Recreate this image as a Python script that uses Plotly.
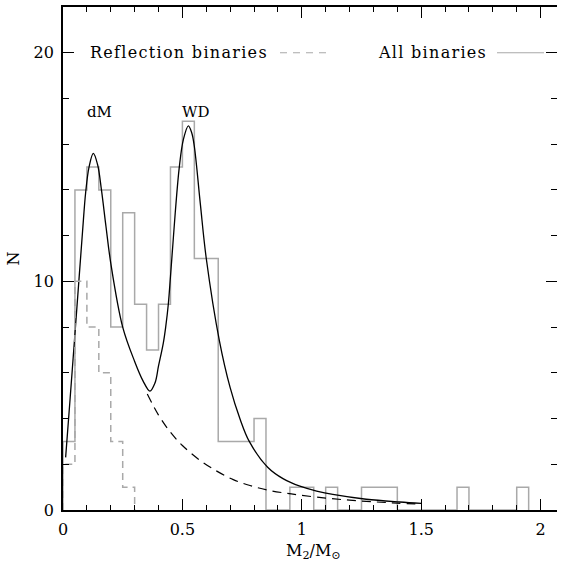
import plotly.graph_objects as go

# Histogram counts in 0.05 Msun bins starting at M2 = 0
BIN_WIDTH = 0.05
all_counts = [3, 14, 15, 14, 8, 13, 9, 7, 9, 15, 17, 11, 11, 3, 3, 3, 4, 0, 0, 1,
              1, 0, 1, 0, 0, 1, 1, 1, 0, 0, 0, 0, 0, 1, 0, 0, 0, 0, 1]
refl_counts = [2, 10, 8, 6, 3, 1]

# Two-component fit (dM + WD), sampled along the curve
fit_x = [0.011, 0.03, 0.05, 0.067, 0.082, 0.095, 0.109, 0.127, 0.145, 0.161,
         0.18, 0.20, 0.25, 0.30, 0.335, 0.364, 0.385, 0.40, 0.42, 0.43,
         0.441, 0.45, 0.46, 0.47, 0.487, 0.504, 0.525, 0.539, 0.55, 0.575,
         0.60, 0.655, 0.70, 0.741, 0.78, 0.857, 0.923, 0.992, 1.062, 1.13,
         1.27, 1.41, 1.50]
fit_y = [2.3, 4.9, 7.7, 10.1, 12.2, 13.9, 15.0, 15.6, 15.1, 14.0,
         12.4, 10.8, 8.0, 6.5, 5.65, 5.2, 5.55, 6.3, 7.3, 8.0,
         9.0, 10.2, 11.6, 13.0, 15.0, 16.2, 16.8, 16.5, 15.9, 13.4,
         11.0, 7.4, 5.35, 3.99, 3.0, 1.87, 1.36, 1.04, 0.83, 0.68,
         0.47, 0.35, 0.29]

# dM component tail beyond the first minimum
dm_x = [0.353, 0.40, 0.45, 0.50, 0.574, 0.644, 0.713, 0.783, 0.853, 0.923,
        0.992, 1.10, 1.20, 1.30, 1.40, 1.50]
dm_y = [5.07, 4.15, 3.40, 2.82, 2.17, 1.70, 1.33, 1.07, 0.88, 0.75,
        0.65, 0.52, 0.43, 0.36, 0.30, 0.26]

x_ticks = [0, 0.5, 1, 1.5, 2]
x_tick_text = ["0", "0.5", "1", "1.5", "2"]
y_ticks = [0, 10, 20]
Y_RANGE = [0, 22]

FONT = "DejaVu Serif"
GRAY = "#a9a9a9"
PX_PER_UNIT = 238.8
PLOT_L, PLOT_T, PLOT_R, PLOT_B = 63, 5, 10, 57
FIG_W = FIG_H = 567
PLOT_W = FIG_W - PLOT_L - PLOT_R
PLOT_H = FIG_H - PLOT_T - PLOT_B


def step_outline(counts):
    """Outline of a histogram as (x, y) points for an 'hv' line."""
    xs = [0.0]
    ys = [0]
    for i, c in enumerate(counts):
        xs.append(round(i * BIN_WIDTH, 4))
        ys.append(c)
    xs.append(round(len(counts) * BIN_WIDTH, 4))
    ys.append(0)
    return xs, ys


def px(p):
    """Horizontal pixel -> paper fraction."""
    return (p - PLOT_L) / PLOT_W


def py(p):
    """Vertical pixel -> paper fraction."""
    return (PLOT_T + PLOT_H - p) / PLOT_H


fig = go.Figure()

ax, ay = step_outline(all_counts)
fig.add_trace(go.Scatter(x=ax, y=ay, mode="lines", line_shape="hv",
                         line=dict(color=GRAY, width=1.5), hoverinfo="skip"))

# Drawn against the right-hand twin axis (same range) so that axis gets ticks
rx, ry = step_outline(refl_counts)
fig.add_trace(go.Scatter(x=rx, y=ry, mode="lines", line_shape="hv", yaxis="y2",
                         line=dict(color=GRAY, width=1.5, dash="7px,5px"),
                         hoverinfo="skip"))

fig.add_trace(go.Scatter(x=dm_x, y=dm_y, mode="lines", line_shape="spline",
                         line=dict(color="black", width=1.2, dash="9px,6px"),
                         hoverinfo="skip"))

fig.add_trace(go.Scatter(x=fit_x, y=fit_y, mode="lines", line_shape="spline",
                         line=dict(color="black", width=1.3), hoverinfo="skip"))

# Peak labels
fig.add_annotation(x=0.153, y=17.4, text="dM", showarrow=False,
                   xanchor="center", yanchor="middle",
                   font=dict(family=FONT, size=15, color="black"))
fig.add_annotation(x=0.555, y=17.4, text="WD", showarrow=False,
                   xanchor="center", yanchor="middle",
                   font=dict(family=FONT, size=15, color="black"))

# Key at N = 20
fig.add_annotation(xref="paper", x=px(88), y=20, xanchor="left", yanchor="middle",
                   text='<span style="letter-spacing:1.3px">Reflection binaries</span>',
                   showarrow=False, font=dict(family=FONT, size=16, color="black"))
fig.add_shape(type="line", xref="paper", x0=px(280), x1=px(330), y0=20, y1=20,
              line=dict(color=GRAY, width=1.2, dash="7px,6px"))
fig.add_annotation(xref="paper", x=px(376), y=20, xanchor="left", yanchor="middle",
                   text='<span style="letter-spacing:1.3px">All binaries</span>',
                   showarrow=False, font=dict(family=FONT, size=16, color="black"))
fig.add_shape(type="line", xref="paper", x0=px(497), x1=px(544), y0=20, y1=20,
              line=dict(color=GRAY, width=1.2))

# Axis titles
fig.add_annotation(xref="paper", yref="paper", x=px(313), y=py(552),
                   xanchor="center", yanchor="middle",
                   text="M<sub>2</sub>/M<sub>\u2299</sub>", showarrow=False,
                   font=dict(family=FONT, size=16, color="black"))
fig.add_annotation(xref="paper", yref="paper", x=px(13), y=0.5,
                   xanchor="center", yanchor="middle", textangle=-90,
                   text="N", showarrow=False,
                   font=dict(family=FONT, size=16, color="black"))

tick_font = dict(family=FONT, size=16, color="black")

fig.update_layout(
    width=FIG_W, height=FIG_H,
    margin=dict(l=PLOT_L, r=PLOT_R, t=PLOT_T, b=PLOT_B),
    paper_bgcolor="white", plot_bgcolor="white",
    showlegend=False,
    xaxis=dict(range=[0, PLOT_W / PX_PER_UNIT], tickvals=x_ticks,
               ticktext=x_tick_text,
               showgrid=False, zeroline=False, showline=True,
               linecolor="black", linewidth=1.7, mirror="ticks",
               ticks="inside", tickcolor="black", tickwidth=1.2, ticklen=11,
               tickfont=tick_font, ticklabelstandoff=4,
               minor=dict(dtick=0.1, ticks="inside", ticklen=5.5,
                          tickcolor="black", tickwidth=1.2)),
    yaxis=dict(range=Y_RANGE, tickvals=y_ticks,
               showgrid=False, zeroline=False, showline=True,
               linecolor="black", linewidth=1.7, mirror=False,
               ticks="inside", tickcolor="black", tickwidth=1.2, ticklen=11,
               tickfont=tick_font, ticklabelstandoff=4,
               minor=dict(dtick=2, ticks="inside", ticklen=6,
                          tickcolor="black", tickwidth=1.2)),
    # Right-hand ticks without a frame line
    yaxis2=dict(range=Y_RANGE, tickvals=y_ticks, overlaying="y", side="right",
                showgrid=False, zeroline=False, showline=False,
                showticklabels=False,
                ticks="inside", tickcolor="black", tickwidth=1.2, ticklen=11,
                minor=dict(dtick=2, ticks="inside", ticklen=6,
                           tickcolor="black", tickwidth=1.2)),
)

fig.write_html("out.html")
